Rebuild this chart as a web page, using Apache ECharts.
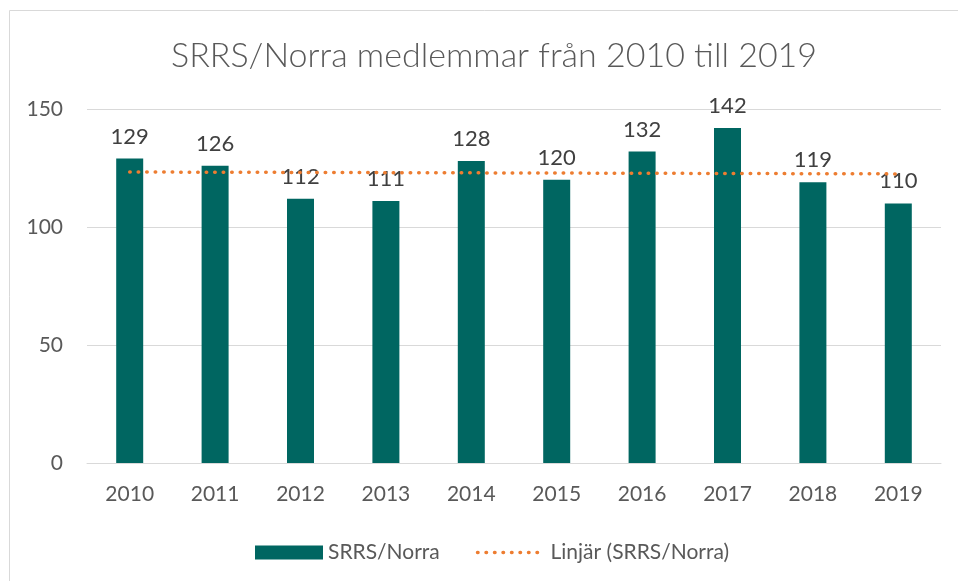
<!DOCTYPE html>
<html>
<head>
<meta charset="utf-8">
<script src="https://cdn.jsdelivr.net/npm/echarts@6/dist/echarts.min.js"></script>
<style>
  html, body { margin: 0; padding: 0; background: #fff; }
  #chart { width: 958px; height: 581px; }
</style>
</head>
<body>
<div id="chart"></div>
<script>
// årtal och medlemsantal
var years = ['2010', '2011', '2012', '2013', '2014', '2015', '2016', '2017', '2018', '2019'];
var members = [129, 126, 112, 111, 128, 120, 132, 142, 119, 110];
// linjär trendlinje, avläst vid första och sista året
var trend = [123.3, '-', '-', '-', '-', '-', '-', '-', '-', 122.5];
var yTicks = [0, 50, 100, 150];

var font = 'Lato';
var dotted = { color : '#ed7d31', width : 3.5, type : [ 0.5, 8 ], cap : 'round' };
var chart = echarts.init(document.getElementById('chart'));

chart.setOption({
	animation : false,
	textStyle : { fontFamily : font },
	graphic : [ {
		type : 'rect',
		shape : { x : 9.5, y : 10.5, width : 1000, height : 1000 },
		style : { fill : 'none', stroke : '#d9d9d9', lineWidth : 1 },
		silent : true
	} ],
	title : {
		text : 'SRRS/Norra medlemmar från 2010 till 2019',
		left : 489,
		textAlign : 'center',
		top : 34,
		textStyle : { fontFamily : font, fontSize : 34, fontWeight : 300, color : '#595959' }
	},
	legend : {
		left : 250,
		top : 537,
		itemGap : 36,
		itemWidth : 68,
		itemHeight : 14,
		textStyle : { fontFamily : font, fontSize : 21, color : '#595959' },
		data : [ { name : 'SRRS/Norra', icon : 'rect' },
			{ name : 'Linjär (SRRS/Norra)', itemStyle : { opacity : 0 }, lineStyle : dotted } ]
	},
	grid : { left : 87, right : 17, top : 109, bottom : 118 },
	xAxis : {
		type : 'category',
		data : years,
		axisTick : { show : false },
		axisLine : { lineStyle : { color : '#d9d9d9', width : 1 } },
		axisLabel : { fontFamily : font, fontSize : 21, color : '#595959', margin : 21 }
	},
	yAxis : {
		type : 'value',
		min : yTicks[0],
		max : yTicks[yTicks.length - 1],
		interval : 50,
		axisLine : { show : false },
		axisTick : { show : false },
		splitLine : { lineStyle : { color : '#d9d9d9', width : 1 } },
		axisLabel : { fontFamily : font, fontSize : 21, color : '#595959', margin : 24 }
	},
	series : [ {
		name : 'SRRS/Norra',
		type : 'bar',
		data : members,
		barWidth : 27,
		itemStyle : { color : '#006661' },
		label : {
			show : true,
			position : 'top',
			distance : 11,
			fontFamily : font,
			fontSize : 22,
			color : '#404040'
		},
		z : 2
	}, {
		name : 'Linjär (SRRS/Norra)',
		type : 'line',
		data : trend,
		connectNulls : true,
		symbol : 'none',
		lineStyle : dotted,
		itemStyle : { color : '#ed7d31' },
		z : 3
	} ]
});
</script>
</body>
</html>
